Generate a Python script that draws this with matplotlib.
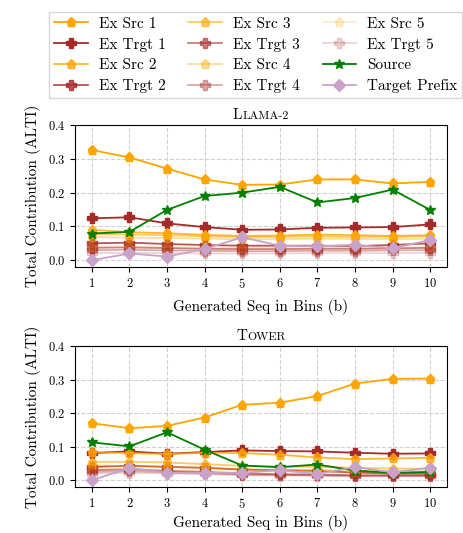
import numpy as np
import matplotlib
matplotlib.use("Agg")
import matplotlib.pyplot as plt
from matplotlib.offsetbox import TextArea, HPacker, AnchoredOffsetbox

plt.rcParams["font.family"] = "serif"
plt.rcParams["font.serif"] = ["cmr10", "DejaVu Serif"]
plt.rcParams["mathtext.fontset"] = "cm"
plt.rcParams["axes.formatter.use_mathtext"] = True

bins = [1, 2, 3, 4, 5, 6, 7, 8, 9, 10]

# Llama-2
llama_src = [
    [0.326, 0.304, 0.271, 0.239, 0.223, 0.224, 0.239, 0.239, 0.227, 0.232],
    [0.090, 0.083, 0.080, 0.075, 0.072, 0.073, 0.076, 0.074, 0.072, 0.074],
    [0.078, 0.076, 0.074, 0.071, 0.069, 0.069, 0.071, 0.069, 0.070, 0.071],
    [0.068, 0.067, 0.066, 0.064, 0.062, 0.062, 0.064, 0.063, 0.063, 0.064],
    [0.040, 0.040, 0.039, 0.038, 0.037, 0.037, 0.038, 0.038, 0.038, 0.039],
]
llama_trgt = [
    [0.124, 0.127, 0.109, 0.098, 0.090, 0.091, 0.096, 0.097, 0.098, 0.106],
    [0.050, 0.052, 0.048, 0.045, 0.043, 0.043, 0.043, 0.042, 0.045, 0.050],
    [0.037, 0.038, 0.036, 0.034, 0.033, 0.033, 0.034, 0.034, 0.035, 0.037],
    [0.030, 0.031, 0.029, 0.028, 0.027, 0.027, 0.028, 0.028, 0.029, 0.030],
    [0.021, 0.022, 0.021, 0.020, 0.020, 0.020, 0.021, 0.021, 0.021, 0.022],
]
llama_source = [0.079, 0.084, 0.149, 0.190, 0.200, 0.217, 0.171, 0.184, 0.209, 0.149]
llama_prefix = [0.000, 0.020, 0.011, 0.033, 0.068, 0.043, 0.041, 0.046, 0.035, 0.060]

# Tower
tower_src = [
    [0.170, 0.155, 0.162, 0.187, 0.225, 0.231, 0.251, 0.288, 0.302, 0.303],
    [0.084, 0.081, 0.078, 0.082, 0.081, 0.076, 0.068, 0.063, 0.065, 0.067],
    [0.055, 0.055, 0.053, 0.048, 0.043, 0.041, 0.040, 0.037, 0.035, 0.035],
    [0.045, 0.042, 0.040, 0.037, 0.033, 0.031, 0.030, 0.028, 0.027, 0.027],
    [0.035, 0.033, 0.031, 0.029, 0.026, 0.025, 0.024, 0.022, 0.021, 0.021],
]
tower_trgt = [
    [0.081, 0.086, 0.079, 0.084, 0.089, 0.087, 0.086, 0.082, 0.079, 0.080],
    [0.040, 0.043, 0.040, 0.037, 0.032, 0.030, 0.028, 0.023, 0.020, 0.020],
    [0.030, 0.033, 0.028, 0.025, 0.020, 0.018, 0.017, 0.015, 0.015, 0.015],
    [0.025, 0.027, 0.024, 0.021, 0.017, 0.016, 0.015, 0.013, 0.013, 0.013],
    [0.020, 0.022, 0.020, 0.018, 0.015, 0.014, 0.013, 0.012, 0.012, 0.012],
]
tower_source = [0.113, 0.101, 0.143, 0.091, 0.044, 0.039, 0.047, 0.029, 0.022, 0.025]
tower_prefix = [0.000, 0.037, 0.022, 0.022, 0.022, 0.030, 0.019, 0.039, 0.024, 0.037]

alphas = [1.0, 0.8, 0.6, 0.4, 0.2]


def small_caps_title(ax, first, rest):
    parts = [TextArea(first, textprops=dict(fontsize=11)),
             TextArea(rest, textprops=dict(fontsize=8.6))]
    box = HPacker(children=parts, align="baseline", pad=0, sep=0)
    anch = AnchoredOffsetbox(loc="lower center", child=box, frameon=False,
                             bbox_to_anchor=(0.5, 1.0), bbox_transform=ax.transAxes,
                             borderpad=0.2, pad=0)
    ax.add_artist(anch)


def draw(ax, src, trgt, source, prefix, pad):
    for i in range(5):
        ax.plot(bins, src[i], color="orange", marker="p", markersize=6.5, lw=1.3,
                alpha=alphas[i], label=f"Ex Src {i+1}")
        ax.plot(bins, trgt[i], color="#a52a2a", marker="P", markersize=6.5, lw=1.3,
                alpha=alphas[i], label=f"Ex Trgt {i+1}")
    ax.plot(bins, source, color="green", marker="*", markersize=7.5, lw=1.3, label="Source")
    ax.plot(bins, prefix, color="#c8a2c8", marker="D", markersize=6, lw=1.3, label="Target Prefix")
    ax.set_ylim(-0.02, 0.4)
    ax.set_yticks([0.0, 0.1, 0.2, 0.3, 0.4])
    ax.set_xticks(bins)
    ax.grid(True, linestyle="--", color="#d0d0d0", linewidth=0.8)
    ax.set_axisbelow(True)
    ax.tick_params(labelsize=9)
    ax.set_xlabel("Generated Seq in Bins (b)", fontsize=11, labelpad=pad)
    ax.set_ylabel("Total Contribution (ALTI)", fontsize=11, labelpad=5)


fig = plt.figure(figsize=(4.64, 5.33), dpi=100)
ax1 = fig.add_axes([75 / 464, 1 - 267 / 533, 372 / 464, 142 / 533])
ax2 = fig.add_axes([75 / 464, 1 - 487 / 533, 372 / 464, 141 / 533])

draw(ax1, llama_src, llama_trgt, llama_source, llama_prefix, 6)
draw(ax2, tower_src, tower_trgt, tower_source, tower_prefix, 3)
small_caps_title(ax1, "L", "LAMA-2")
small_caps_title(ax2, "T", "OWER")

handles, labels = ax1.get_legend_handles_labels()
fig.legend(handles, labels, ncol=3, loc="upper center", bbox_to_anchor=(0.551, 0.978),
           borderaxespad=0, fontsize=11, fancybox=False, edgecolor="#cccccc",
           columnspacing=1.5, handlelength=2.2, labelspacing=0.45, borderpad=0.35,
           handletextpad=0.7)

fig.savefig("out.png", dpi=100)
